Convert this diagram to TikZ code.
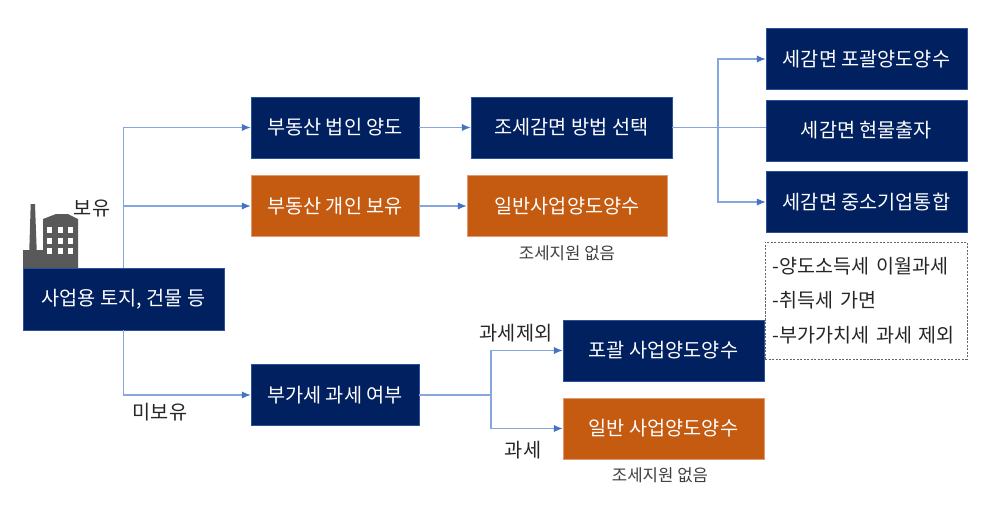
\documentclass[tikz,border=0pt]{standalone}
\usepackage{fontspec}
\setmainfont{Noto Sans CJK KR}
\usepackage{xcolor}
\usepackage{tikz}
\usetikzlibrary{arrows.meta}
\definecolor{navy}{HTML}{002060}
\definecolor{rust}{HTML}{C55A11}
\definecolor{linkblue}{HTML}{86A6DD}
\definecolor{tipblue}{HTML}{4472C4}
\definecolor{icongray}{HTML}{595959}
\tikzstyle{navybox} = [rectangle, minimum width=4.2cm, minimum height=1.525cm, inner sep=0pt, text centered, draw=tipblue!60!navy, fill=navy, text=white, font=\fontsize{14}{16}\selectfont]
\tikzstyle{rustbox} = [navybox, draw=rust!60!white, fill=rust]
\tikzstyle{notebox} = [rectangle, draw=black!60, dash pattern=on 1.5pt off 1pt, line width=0.5pt, text width=4.65cm, align=left, minimum height=2.925cm, inner xsep=0.2cm, text=black!85, font=\fontsize{13.9}{24.5}\selectfont]
\tikzstyle{tagtext} = [text=black!85, font=\fontsize{14}{16}\selectfont]
\tikzstyle{smalltext} = [text=black!75, font=\fontsize{11.9}{14}\selectfont]
\tikzstyle{line} = [draw=linkblue, line width=0.8pt]
\tikzstyle{arrow} = [line, -{Latex[length=2.2mm, width=1.8mm, color=tipblue]}]

\begin{document}
\begin{tikzpicture}[x=0.025cm, y=-0.025cm]
    \useasboundingbox (0,0) rectangle (992,513);

    % Factory icon
    \fill [icongray] (30.7,204) -- (35,204) -- (36.7,250) -- (29.3,250) -- cycle;
    \fill [icongray] (43,219) -- (56,214) -- (68,214) -- (78,219) -- (78,268) -- (43,268) -- cycle;
    \fill [icongray] (23,250) rectangle (78,268);
    \foreach \wx in {47,57.5,68}
        \foreach \wy in {227,238,248}
            \fill [white] (\wx,\wy) rectangle ++(5,5.5);

    % Nodes
    \node (land) [navybox, minimum width=5.025cm, minimum height=1.55cm] at (123.5,299) {사업용 토지, 건물 등};
    \node (corp) [navybox] at (335,127.5) {부동산 법인 양도};
    \node (keep) [rustbox] at (335,206) {부동산 개인 보유};
    \node (vat) [navybox] at (335,395) {부가세 과세 여부};
    \node (choice) [navybox, minimum width=5.025cm] at (571.5,127.5) {조세감면 방법 선택};
    \node (general) [rustbox, minimum width=5cm] at (567,206) {일반사업양도양수};
    \node (nosupportA) [smalltext] at (567,253) {조세지원 없음};
    \node (bulk) [navybox, minimum width=5.025cm] at (866.5,59) {세감면 포괄양도양수};
    \node (inkind) [navybox, minimum width=5.025cm] at (866.5,130.5) {세감면 현물출자};
    \node (merger) [navybox, minimum width=5.025cm] at (866.5,202) {세감면 중소기업통합};
    \node (note) [notebox] at (866,300.5) {-양도소득세 이월과세\\-취득세 가면\\-부가가치세 과세 제외};
    \node (comp) [navybox, minimum width=5.025cm] at (663.5,350.5) {포괄 사업양도양수};
    \node (plain) [rustbox, minimum width=5.025cm] at (663.5,428.5) {일반 사업양도양수};
    \node (nosupportB) [smalltext] at (660,475) {조세지원 없음};

    % Labels
    \node (own) [tagtext] at (92,208) {보유};
    \node (notown) [tagtext] at (160,412) {미보유};
    \node (exempt) [tagtext] at (516,333) {과세제외};
    \node (taxed) [tagtext] at (523,450) {과세};

    % Arrows
    \coordinate (splitA) at (718,128);
    \coordinate (splitB) at (491,395);
    \draw [arrow] (land.north) |- (corp.west);
    \draw [arrow] (land.north) |- (keep.west);
    \draw [arrow] (land.south) |- (vat.west);
    \draw [arrow] (corp) -- (choice);
    \draw [arrow] (keep) -- (general);
    \draw [line] (choice.east) -- (choice.east -| inkind.west);
    \draw [arrow] (splitA) |- (bulk.west);
    \draw [arrow] (splitA) |- (merger.west);
    \draw [line] (vat.east) -- (splitB);
    \draw [arrow] (splitB) |- (comp.west);
    \draw [arrow] (splitB) |- (plain.west);

\end{tikzpicture}
\end{document}
